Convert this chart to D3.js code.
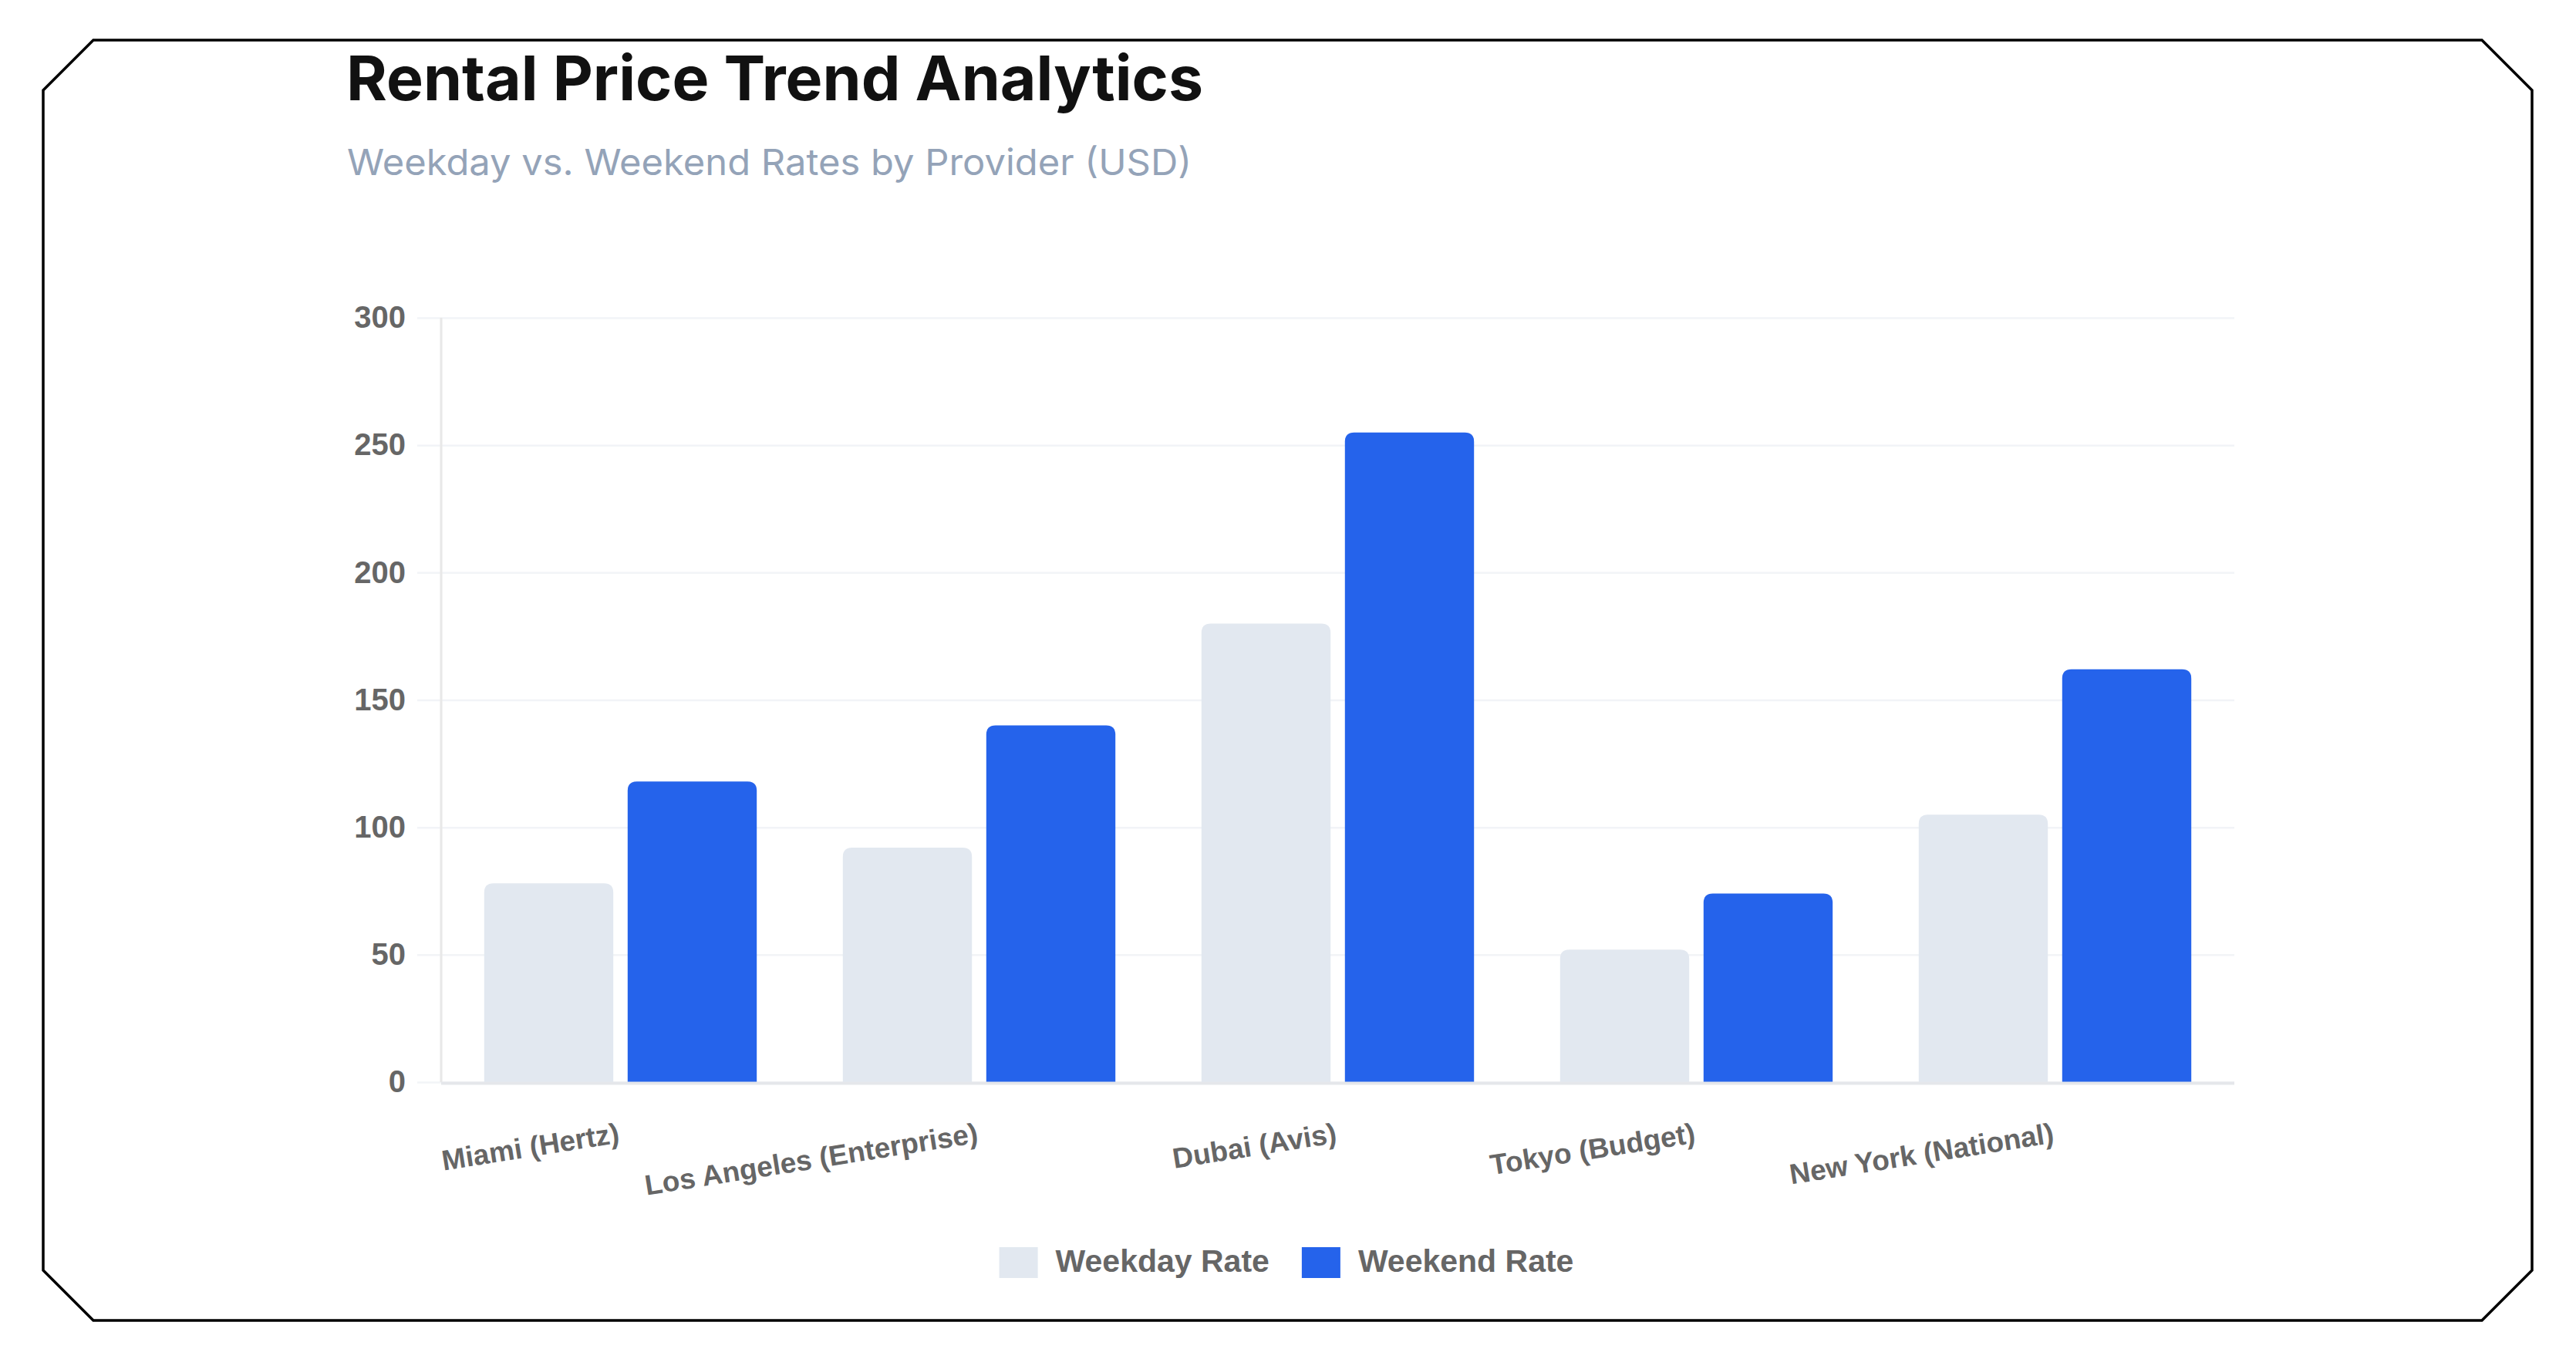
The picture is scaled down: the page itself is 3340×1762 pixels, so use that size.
<!DOCTYPE html>
<html>
<head>
<meta charset="utf-8">
<script src="https://cdn.jsdelivr.net/npm/d3@7/dist/d3.min.js"></script>
<style>
  html, body { margin: 0; padding: 0; background: #ffffff; }
  svg { display: block; }
</style>
</head>
<body>
<svg id="chart" width="3340" height="1762"></svg>
<script>
// ---- Data ----
const categories = ["Miami (Hertz)", "Los Angeles (Enterprise)", "Dubai (Avis)", "Tokyo (Budget)", "New York (National)"];
const seriesNames = ["Weekday Rate", "Weekend Rate"];
const weekdayRates = [78, 92, 180, 52, 105];
const weekendRates = [118, 140, 255, 74, 162];
const yTicks = [0, 50, 100, 150, 200, 250, 300];
const titleText = "Rental Price Trend Analytics";
const subtitleText = "Weekday vs. Weekend Rates by Provider (USD)";

// ---- Layout ----
const W = 3340, H = 1762;
const colors = { "Weekday Rate": "#e2e8f0", "Weekend Rate": "#2563eb" };
const plot = { left: 572, right: 2897, top: 412, bottom: 1403 };

const svg = d3.select("#chart");

// Card border with cut corners
const bx0 = 56, by0 = 52, bx1 = 3283, by1 = 1712, cut = 65;
svg.append("path")
  .attr("d", `M${bx0 + cut},${by0} L${bx1 - cut},${by0} L${bx1},${by0 + cut} L${bx1},${by1 - cut} L${bx1 - cut},${by1} L${bx0 + cut},${by1} L${bx0},${by1 - cut} L${bx0},${by0 + cut} Z`)
  .attr("fill", "#ffffff")
  .attr("stroke", "#000000")
  .attr("stroke-width", 3.5)
  .attr("stroke-linejoin", "miter");

// Title & subtitle
svg.append("text")
  .attr("x", 449).attr("y", 130)
  .attr("font-family", "Inter, 'Open Sans', sans-serif")
  .attr("font-weight", 700)
  .attr("font-size", 80)
  .attr("fill", "#111111")
  .attr("textLength", 1111)
  .attr("lengthAdjust", "spacingAndGlyphs")
  .text(titleText);

svg.append("text")
  .attr("x", 450).attr("y", 227)
  .attr("font-family", "Inter, 'Open Sans', sans-serif")
  .attr("font-weight", 400)
  .attr("font-size", 47)
  .attr("fill", "#94a3b8")
  .attr("textLength", 1095)
  .attr("lengthAdjust", "spacingAndGlyphs")
  .text(subtitleText);

// Scales
const x0 = d3.scaleBand().domain(categories).range([plot.left, plot.right]).paddingInner(0.2).paddingOuter(0.1);
const x1 = d3.scaleBand().domain(seriesNames).range([0, x0.bandwidth()]).paddingInner(0.1).paddingOuter(0.05);
const y = d3.scaleLinear().domain([0, 300]).range([plot.bottom, plot.top]);

// Gridlines (y axis)
const yAxis = d3.axisLeft(y).tickValues(yTicks).tickSize(plot.right - plot.left + 31).tickPadding(14).tickFormat(d3.format("d"));
const gy = svg.append("g").attr("transform", `translate(${plot.right},0)`).call(yAxis);
gy.select(".domain").remove();
gy.selectAll(".tick line").attr("stroke", "#f2f4f7").attr("stroke-width", 2.5);
gy.selectAll(".tick text")
  .attr("font-family", "'Liberation Sans', Arial, Helvetica, sans-serif")
  .attr("font-weight", 700)
  .attr("font-size", 40)
  .attr("fill", "#666666")
  .attr("x", -(plot.right - plot.left + 46));

// Y axis line
svg.append("line")
  .attr("x1", plot.left).attr("x2", plot.left)
  .attr("y1", plot.top).attr("y2", plot.bottom)
  .attr("stroke", "#e8e8e8").attr("stroke-width", 3);

// Bars
const rows = categories.map((c, i) => ({ cat: c, values: [
  { key: "Weekday Rate", value: weekdayRates[i] },
  { key: "Weekend Rate", value: weekendRates[i] }
]}));

function topRoundedRect(xp, yp, w, h, r) {
  r = Math.min(r, w / 2, h);
  return `M${xp},${yp + h} L${xp},${yp + r} Q${xp},${yp} ${xp + r},${yp} L${xp + w - r},${yp} Q${xp + w},${yp} ${xp + w},${yp + r} L${xp + w},${yp + h} Z`;
}

const groups = svg.append("g").selectAll("g").data(rows).join("g")
  .attr("transform", d => `translate(${x0(d.cat)},0)`);
groups.selectAll("path").data(d => d.values).join("path")
  .attr("d", d => topRoundedRect(x1(d.key), y(d.value), x1.bandwidth(), y(0) - y(d.value), 12))
  .attr("fill", d => colors[d.key]);

// X axis line
svg.append("line")
  .attr("x1", plot.left).attr("x2", plot.right)
  .attr("y1", plot.bottom + 1.5).attr("y2", plot.bottom + 1.5)
  .attr("stroke", "#e5e7eb").attr("stroke-width", 4);

// X labels (rotated)
const xAxis = d3.axisBottom(x0).tickSize(0).tickPadding(0);
const gx = svg.append("g").attr("transform", `translate(0,${plot.bottom})`).call(xAxis);
gx.select(".domain").remove();
gx.selectAll(".tick text")
  .attr("font-family", "'Liberation Sans', Arial, Helvetica, sans-serif")
  .attr("font-weight", 700)
  .attr("font-size", 37)
  .attr("fill", "#666666")
  .attr("text-anchor", "end")
  .attr("dominant-baseline", "central")
  .attr("dy", null)
  .attr("y", 0)
  .attr("transform", "translate(-2,66) rotate(-9)");

// Legend
const legend = svg.append("g");
const items = legend.selectAll("g").data(seriesNames).join("g");
items.append("rect").attr("width", 50).attr("height", 40).attr("y", 1617).attr("fill", d => colors[d]);
items.append("text")
  .attr("y", 1649)
  .attr("font-family", "'Liberation Sans', Arial, Helvetica, sans-serif")
  .attr("font-weight", 700)
  .attr("font-size", 41)
  .attr("fill", "#666666")
  .text(d => d);
// layout legend centered
const gapBoxText = 23, gapItems = 42;
let widths = [];
items.each(function() { widths.push(50 + gapBoxText + d3.select(this).select("text").node().getComputedTextLength()); });
const total = d3.sum(widths) + gapItems * (widths.length - 1);
let cx = 1668 - total / 2;
items.each(function(d, i) {
  const g = d3.select(this);
  g.select("rect").attr("x", cx);
  g.select("text").attr("x", cx + 50 + gapBoxText);
  cx += widths[i] + gapItems;
});
</script>
</body>
</html>
